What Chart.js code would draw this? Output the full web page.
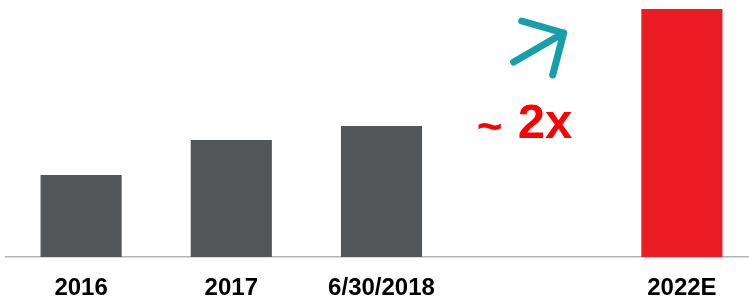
<!DOCTYPE html>
<html>
<head>
<meta charset="utf-8">
<script src="https://cdn.jsdelivr.net/npm/chart.js@4.4.0/dist/chart.umd.min.js"></script>
<style>
    html, body { margin: 0; padding: 0; background: #fff; overflow: hidden; }
    .wrap { width: 760px; height: 301px; }
</style>
</head>
<body>
<div class="wrap"><canvas id="growthChart" width="760" height="301"></canvas></div>
<script>
// Chart data
const categories = ['2016', '2017', '6/30/2018', '', '2022E'];
const values = [82, 117, 131, null, 248];
const barColors = ['#535659', '#535659', '#535659', '#535659', '#ec1c24'];
const growthLabel = '2x';

// Arrow + "~ 2x" callout, placed in the empty slot
const calloutPlugin = {
    id: 'callout',
    afterDraw(chart) {
        const ctx = chart.ctx;
        const x = chart.scales.x.getPixelForValue(3);
        ctx.save();
        // arrow
        ctx.strokeStyle = '#169ea9';
        ctx.lineWidth = 7;
        ctx.lineCap = 'round';
        ctx.lineJoin = 'round';
        ctx.beginPath();
        ctx.moveTo(x - 18, 62);
        ctx.lineTo(x + 32, 33);
        ctx.moveTo(x - 10, 21);
        ctx.lineTo(x + 32, 33);
        ctx.lineTo(x + 21, 75);
        ctx.stroke();
        // label
        ctx.fillStyle = '#ff0000';
        ctx.textBaseline = 'alphabetic';
        ctx.font = 'bold 44px "Liberation Sans", Arial, sans-serif';
        ctx.fillText('~', x - 55, 141);
        ctx.font = 'bold 49px "Liberation Sans", Arial, sans-serif';
        ctx.fillText(growthLabel, x - 14, 138);
        ctx.restore();
    }
};

const ctx = document.getElementById('growthChart').getContext('2d');
const growthChart = new Chart(ctx, {
    type: 'bar',
    data: {
        labels: categories,
        datasets: [{
            data: values,
            backgroundColor: barColors,
            barPercentage: 0.54,
            categoryPercentage: 1
        }]
    },
    options: {
        responsive: false,
        animation: false,
        layout: {
            padding: { left: 6, right: 3, top: 7, bottom: 0 }
        },
        plugins: {
            legend: { display: false },
            tooltip: { enabled: false }
        },
        scales: {
            x: {
                grid: { display: false, drawTicks: false },
                border: { color: '#b3b3b3', width: 1.5 },
                ticks: {
                    color: '#000',
                    padding: 17,
                    maxRotation: 0,
                    font: { family: '"Liberation Sans", Arial, sans-serif', size: 24, weight: 'bold' }
                },
                afterFit(scale) { scale.height = 44; }
            },
            y: {
                display: false,
                min: 0,
                max: 250
            }
        }
    },
    plugins: [calloutPlugin]
});
</script>
</body>
</html>
